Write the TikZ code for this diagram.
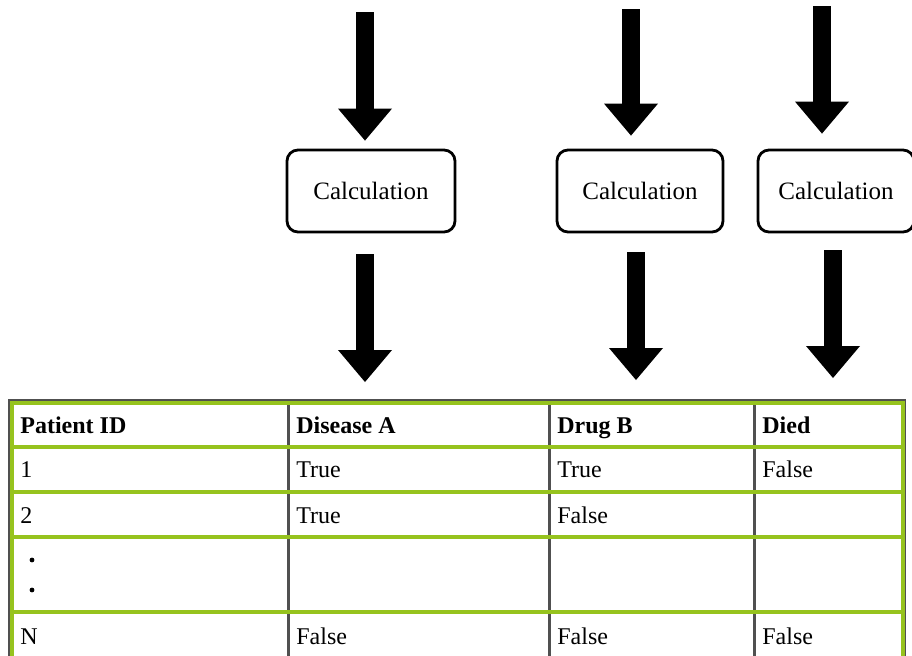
\documentclass[tikz,border=0pt]{standalone}
\usepackage{fontspec}
\setmainfont{Liberation Serif}
\usetikzlibrary{arrows.meta}
\definecolor{cellgreen}{RGB}{150,195,30}
\definecolor{rulegray}{RGB}{80,80,80}

\begin{document}
\begin{tikzpicture}[
  x=0.5pt, y=-0.5pt,
  font=\fontsize{12}{14}\selectfont,
  calc/.style={draw, line width=1.4pt, rounded corners=5.5pt, minimum height=41pt,
               font=\fontsize{12.5}{15}\selectfont},
  big/.style={line width=8.75pt, -{Triangle[width=27pt,length=16pt,line width=0pt]}},
  hd/.style={anchor=base west, inner sep=0pt, font=\fontsize{12}{14}\selectfont\bfseries},
  cell/.style={anchor=base west, inner sep=0pt},
  frame/.style={rulegray, line width=0.8pt},
  vrule/.style={rulegray, line width=1.2pt},
  grule/.style={cellgreen, line width=1.8pt},
  dotmark/.style={circle, fill, inner sep=0pt, minimum size=2.4pt}
]
\useasboundingbox (0,0) rectangle (912,655);

% ---- calculation boxes ----
\node[calc, minimum width=84pt] (calc1) at (371,191) {Calculation};
\node[calc, minimum width=83pt] (calc2) at (640,191) {Calculation};
\node[calc, minimum width=78pt] (calc3) at (836,191) {Calculation};

% ---- arrows in ----
\coordinate (in1) at (365,12);
\coordinate (in2) at (631,9);
\coordinate (in3) at (822,6);
\draw[big, shorten >=4pt] (in1) -- (in1 |- calc1.north);
\draw[big, shorten >=6.5pt] (in2) -- (in2 |- calc2.north);
\draw[big, shorten >=7.5pt] (in3) -- (in3 |- calc3.north);

% ---- arrows out ----
\coordinate (out1) at (365,382);
\coordinate (out2) at (636,380);
\coordinate (out3) at (833,378);
\draw[big, shorten <=10.5pt] (out1 |- calc1.south) -- (out1);
\draw[big, shorten <=9.5pt]  (out2 |- calc2.south) -- (out2);
\draw[big, shorten <=8.5pt]  (out3 |- calc3.south) -- (out3);

% ---- table ----
\draw[frame] (9,400) rectangle (905,700);
\foreach \x in {288.5,549.5,754.5}
  \draw[vrule] (\x,400) -- (\x,700);
\draw[grule] (12,403) rectangle (903,700);
\foreach \y in {447,492,537,612}
  \draw[grule] (12,\y) -- (903,\y);

\node[hd] (hid)  at (20,433)  {Patient ID};
\node[hd] (hdis) at (296,433) {Disease A};
\node[hd] (hdrg) at (557,433) {Drug B};
\node[hd] (hdie) at (762,433) {Died};

\node[cell] (id1)  at (20,477)  {1};
\node[cell] (dis1) at (296,477) {True};
\node[cell] (drg1) at (557,477) {True};
\node[cell] (die1) at (762,477) {False};

\node[cell] (id2)  at (20,523)  {2};
\node[cell] (dis2) at (296,523) {True};
\node[cell] (drg2) at (557,523) {False};

\node[dotmark] (dot1) at (32,560) {};
\node[dotmark] (dot2) at (32,590) {};

\node[cell] (idn)  at (20,644)  {N};
\node[cell] (disn) at (296,644) {False};
\node[cell] (drgn) at (557,644) {False};
\node[cell] (dien) at (762,644) {False};
\end{tikzpicture}
\end{document}
